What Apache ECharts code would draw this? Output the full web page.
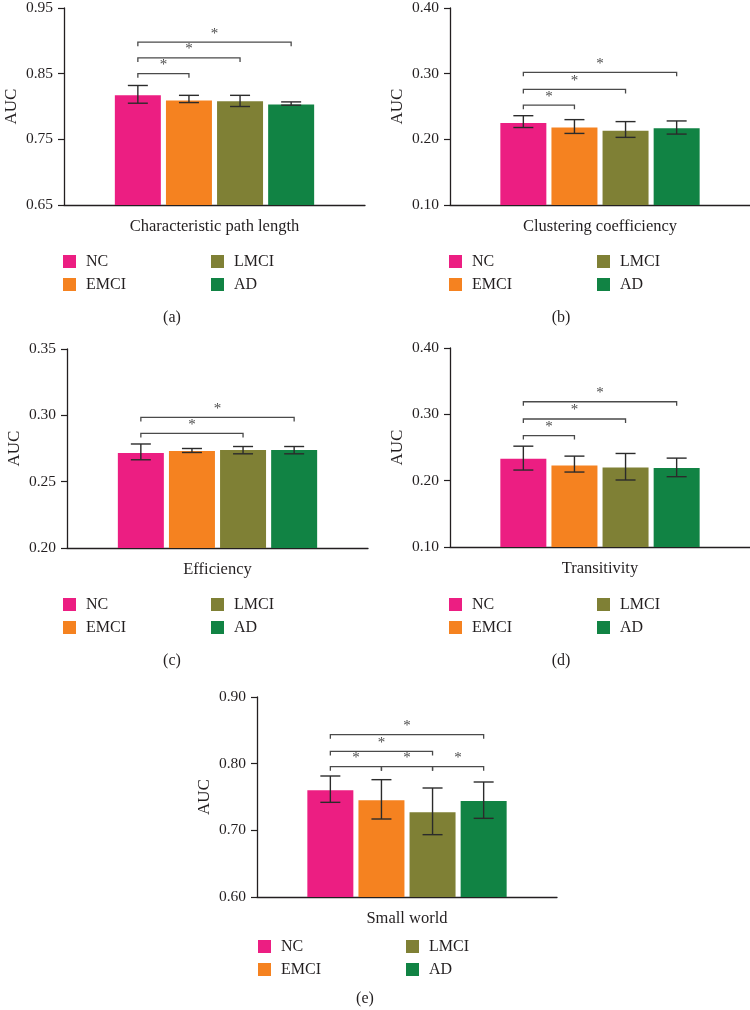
<!DOCTYPE html>
<html>
<head>
<meta charset="utf-8">
<script src="https://cdn.jsdelivr.net/npm/echarts@6/dist/echarts.min.js"></script>
<style>
html,body{margin:0;padding:0;background:#fff;}
#chart{width:750px;height:1010px;}
</style>
</head>
<body>
<div id="chart"></div>
<script>
// ---- data ----
const groups = ['NC', 'EMCI', 'LMCI', 'AD'];
const groupColors = ['#EC1E82', '#F58220', '#7F8035', '#118344'];
const metrics = ['Characteristic path length', 'Clustering coefficiency', 'Efficiency', 'Transitivity', 'Small world'];
const captions = ['(a)', '(b)', '(c)', '(d)', '(e)'];

const meanPath = [0.817, 0.809, 0.808, 0.803];
const errPath = [[0.805, 0.832], [0.806, 0.817], [0.800, 0.817], [0.802, 0.807]];
const sigPath = [[0, 1, 0.850], [0, 2, 0.874], [0, 3, 0.898]];
const ticksPath = [0.65, 0.75, 0.85, 0.95];

const meanClust = [0.225, 0.218, 0.213, 0.217];
const errClust = [[0.218, 0.236], [0.209, 0.230], [0.203, 0.227], [0.208, 0.228]];
const sigClust = [[0, 1, 0.252], [0, 2, 0.276], [0, 3, 0.302]];
const ticksClust = [0.10, 0.20, 0.30, 0.40];

const meanEff = [0.2716, 0.2731, 0.2738, 0.2738];
const errEff = [[0.2665, 0.2784], [0.2720, 0.2750], [0.2710, 0.2765], [0.2710, 0.2765]];
const sigEff = [[0, 2, 0.2864], [0, 3, 0.2984]];
const ticksEff = [0.20, 0.25, 0.30, 0.35];

const meanTrans = [0.233, 0.223, 0.220, 0.219];
const errTrans = [[0.216, 0.252], [0.213, 0.237], [0.201, 0.241], [0.206, 0.234]];
const sigTrans = [[0, 1, 0.268], [0, 2, 0.293], [0, 3, 0.319]];
const ticksTrans = [0.10, 0.20, 0.30, 0.40];

const meanSW = [0.760, 0.745, 0.727, 0.744];
const errSW = [[0.742, 0.7815], [0.717, 0.776], [0.6935, 0.7635], [0.718, 0.7725]];
const sigSW = [[0, 1, 0.7955], [1, 2, 0.7955], [2, 3, 0.7955], [0, 2, 0.8184], [0, 3, 0.8435]];
const ticksSW = [0.60, 0.70, 0.80, 0.90];

// ---- layout / style ----
const FONT = 'Liberation Serif';
const TXT = '#231F20';
const panels = [
  {mean: meanPath, err: errPath, sig: sigPath, ticks: ticksPath, grid: {left: 64, top: 6, width: 301, height: 199}, legend: {left: 63, top: 250}, cap: {left: 172, top: 310}},
  {mean: meanClust, err: errClust, sig: sigClust, ticks: ticksClust, grid: {left: 450, top: 6, width: 300, height: 199}, legend: {left: 449, top: 250}, cap: {left: 561, top: 310}},
  {mean: meanEff, err: errEff, sig: sigEff, ticks: ticksEff, grid: {left: 67, top: 349, width: 301, height: 199}, legend: {left: 63, top: 593}, cap: {left: 172, top: 653}},
  {mean: meanTrans, err: errTrans, sig: sigTrans, ticks: ticksTrans, grid: {left: 450, top: 348, width: 300, height: 199}, legend: {left: 449, top: 593}, cap: {left: 561, top: 653}},
  {mean: meanSW, err: errSW, sig: sigSW, ticks: ticksSW, grid: {left: 257, top: 697, width: 300, height: 200}, legend: {left: 258, top: 935}, cap: {left: 365, top: 991}}
];
const BAR_W = 46, GAP = 5.1;
const STEP = BAR_W + GAP;

const grid = [], xAxis = [], yAxis = [], series = [], legend = [], title = [];
panels.forEach((p, k) => {
  grid.push(Object.assign({containLabel: false}, p.grid));
  xAxis.push({
    type: 'category', gridIndex: k, data: [metrics[k]],
    axisLine: {lineStyle: {color: TXT, width: 1.3}},
    axisTick: {alignWithLabel: true, length: 6, lineStyle: {color: TXT, width: 1.2}},
    axisLabel: {margin: 13, fontFamily: FONT, fontSize: 16.5, color: TXT}
  });
  yAxis.push({
    type: 'value', gridIndex: k,
    min: p.ticks[0], max: p.ticks[p.ticks.length - 1],
    splitLine: {show: false},
    axisLine: {show: true, lineStyle: {color: TXT, width: 1.3}},
    axisTick: {show: true, length: 6, customValues: p.ticks, lineStyle: {color: TXT, width: 1.2}},
    axisLabel: {customValues: p.ticks, margin: 11, fontFamily: FONT, fontSize: 15.5, color: TXT,
      formatter: v => v.toFixed(2)},
    name: 'AUC', nameLocation: 'middle', nameRotate: 90, nameGap: 44, nameMoveOverlap: false,
    nameTextStyle: {fontFamily: FONT, fontSize: 17, color: TXT}
  });
  groups.forEach((g, i) => {
    series.push({
      name: g, type: 'bar', xAxisIndex: k, yAxisIndex: k,
      data: [p.mean[i]], barWidth: BAR_W, barGap: (GAP / BAR_W * 100) + '%',
      itemStyle: {color: groupColors[i]}, z: 2
    });
  });
  // error bars
  series.push({
    type: 'custom', xAxisIndex: k, yAxisIndex: k, z: 5, silent: true,
    encode: {x: 0, y: [1, 2]},
    data: p.err.map((e, i) => [0, e[0], e[1], i]),
    renderItem: (params, api) => {
      const i = api.value(3);
      const lo = api.coord([0, api.value(1)]);
      const hi = api.coord([0, api.value(2)]);
      const x = lo[0] + (i - 1.5) * STEP;
      const hw = 10;
      const st = {stroke: '#2b2b2b', lineWidth: 1.4, fill: null};
      return {type: 'group', children: [
        {type: 'line', shape: {x1: x, y1: lo[1], x2: x, y2: hi[1]}, style: st},
        {type: 'line', shape: {x1: x - hw, y1: lo[1], x2: x + hw, y2: lo[1]}, style: st},
        {type: 'line', shape: {x1: x - hw, y1: hi[1], x2: x + hw, y2: hi[1]}, style: st}
      ]};
    }
  });
  // significance brackets
  series.push({
    type: 'custom', xAxisIndex: k, yAxisIndex: k, z: 5, silent: true,
    encode: {x: 0, y: 1},
    data: p.sig.map(s => [0, s[2], s[0], s[1]]),
    renderItem: (params, api) => {
      const c = api.coord([0, api.value(1)]);
      const x1 = c[0] + (api.value(2) - 1.5) * STEP;
      const x2 = c[0] + (api.value(3) - 1.5) * STEP;
      const y = c[1];
      const st = {stroke: '#4a4a4a', lineWidth: 1.3, fill: null};
      return {type: 'group', children: [
        {type: 'polyline', shape: {points: [[x1, y + 4], [x1, y], [x2, y], [x2, y + 4]]}, style: st},
        {type: 'text', style: {text: '*', x: (x1 + x2) / 2, y: y - 1, align: 'center', verticalAlign: 'bottom',
          font: '15px "' + FONT + '"', fill: '#4a4a4a'}}
      ]};
    }
  });
  legend.push({
    data: ['NC', 'LMCI', 'EMCI', 'AD'], orient: 'horizontal', left: p.legend.left, top: p.legend.top,
    width: 300, padding: 0, itemGap: 0, itemWidth: 13, itemHeight: 13, icon: 'rect', selectedMode: false,
    textStyle: {fontFamily: FONT, fontSize: 16, color: TXT, width: 125, padding: [0, 0, 0, 5], lineHeight: 23}
  });
  title.push({
    text: captions[k], left: p.cap.left, top: p.cap.top, textAlign: 'center', padding: 0,
    textStyle: {fontFamily: FONT, fontSize: 16, fontWeight: 'normal', color: TXT}
  });
});

const chart = echarts.init(document.getElementById('chart'), null, {renderer: 'canvas'});
chart.setOption({animation: false, backgroundColor: '#fff', grid, xAxis, yAxis, series, legend, title});
</script>
</body>
</html>
